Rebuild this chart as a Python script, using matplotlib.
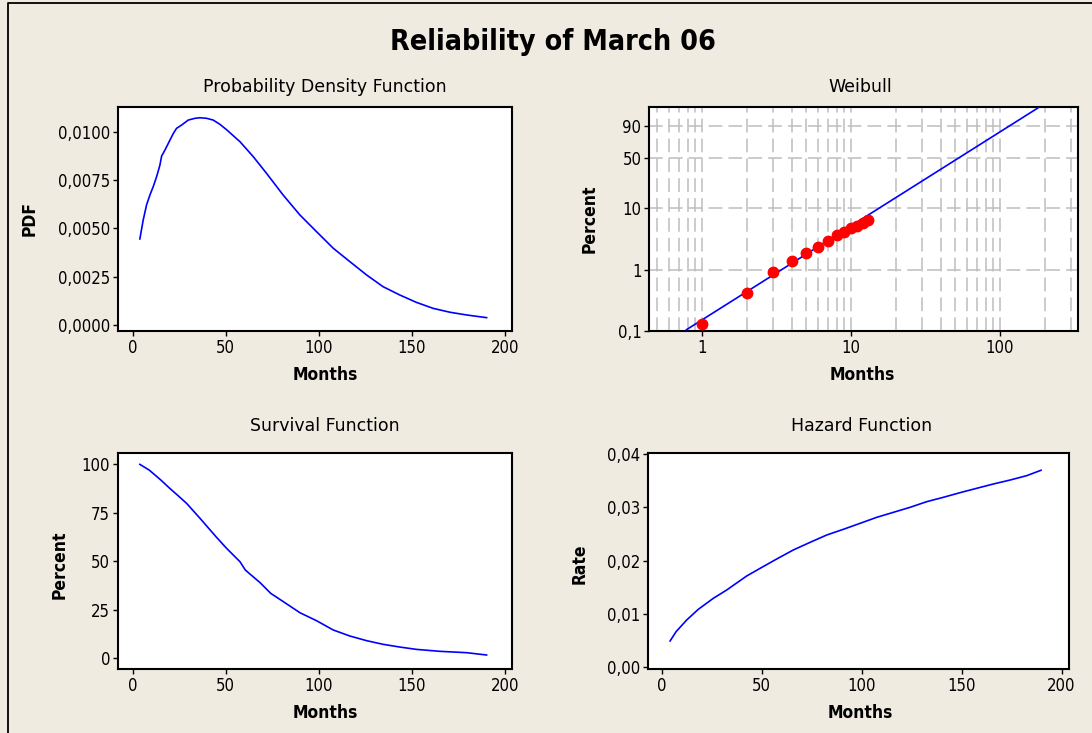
import numpy as np
import matplotlib
matplotlib.use("Agg")
import matplotlib.pyplot as plt
from matplotlib.ticker import FixedLocator, FixedFormatter, LogLocator, NullFormatter
from matplotlib.lines import Line2D

# ---------------- data ----------------
pdf_months = [3.9, 5.7, 7.5, 9.3, 11.1, 12.9, 14.7, 15.6, 17.4, 20.1, 21.9, 23.6, 26.3,
              29.9, 33.5, 36.2, 39.8, 43.3, 46.9, 50.5, 57.7, 64.8, 72.0, 80.9, 89.9,
              98.8, 107.8, 116.7, 125.7, 134.6, 143.6, 152.5, 161.5, 170.5, 179.4, 190.2]
pdf_values = [0.00445, 0.00543, 0.00621, 0.00672, 0.00716, 0.00767, 0.00828, 0.00874,
              0.00905, 0.00957, 0.00991, 0.01017, 0.01034, 0.01060, 0.01069, 0.01072,
              0.01069, 0.01060, 0.01038, 0.01010, 0.00948, 0.00871, 0.00784, 0.00672,
              0.00569, 0.00483, 0.00397, 0.00328, 0.00259, 0.00198, 0.00155, 0.00117,
              0.00086, 0.00066, 0.00052, 0.00038]

surv_months = [3.9, 9.0, 15.2, 20.0, 24.5, 29.0, 36.2, 44.8, 50.5, 57.7, 60.5, 63.0,
               68.5, 74.2, 81.0, 89.9, 98.8, 107.8, 116.7, 125.7, 134.6, 143.6, 152.5,
               165.0, 179.4, 190.2]
surv_percent = [100.0, 97.0, 91.9, 87.6, 83.8, 79.9, 72.2, 62.7, 56.7, 49.8, 45.6, 43.5,
                39.0, 33.5, 29.2, 23.5, 19.4, 14.6, 11.5, 9.1, 7.2, 5.8, 4.6, 3.6,
                2.9, 1.7]

haz_months = [4.2, 7.2, 12.5, 18.3, 25.8, 32.5, 42.5, 49.2, 57.5, 65.8, 74.2, 82.5,
              90.8, 99.2, 107.5, 115.8, 124.2, 132.5, 140.8, 149.2, 157.5, 165.8,
              174.2, 182.5, 189.7]
haz_rate = [0.00484, 0.00659, 0.00879, 0.01080, 0.01287, 0.01444, 0.01708, 0.01852,
            0.02028, 0.02198, 0.02342, 0.02480, 0.02587, 0.02700, 0.02813, 0.02907,
            0.03002, 0.03108, 0.03190, 0.03278, 0.03360, 0.03441, 0.03516, 0.03598,
            0.03700]

wb_months = [1, 2, 3, 4, 5, 6, 7, 8, 9, 10, 11, 12, 13]
wb_percent = [0.13, 0.42, 0.92, 1.40, 1.89, 2.35, 2.91, 3.66, 4.16, 4.76, 5.21, 5.83, 6.43]
fit_months = [0.785, 184.0]
fit_percent = [0.105, 99.15]

month_ticks = [0, 50, 100, 150, 200]
pdf_ticks = [0.0, 0.0025, 0.0050, 0.0075, 0.0100]
pdf_labels = ["0,0000", "0,0025", "0,0050", "0,0075", "0,0100"]
surv_ticks = [0, 25, 50, 75, 100]
haz_ticks = [0.00, 0.01, 0.02, 0.03, 0.04]
haz_labels = ["0,00", "0,01", "0,02", "0,03", "0,04"]
wb_xticks = [1, 10, 100]
wb_yticks = [0.1, 1, 10, 50, 90]
wb_ylabels = ["0,1", "1", "10", "50", "90"]

# ---------------- style ----------------
BG = "#EFEBE1"
BLUE = "#0000FF"
RED = "#FF0000"
GRID = "#BDBDBD"
plt.rcParams["font.family"] = ["DejaVu Sans"]
plt.rcParams["font.stretch"] = "condensed"

W, H = 1092, 733
fig = plt.figure(figsize=(W / 100, H / 100), dpi=100, facecolor=BG)


def px_rect(left, top, right, bottom):
    return [left / W, 1 - bottom / H, (right - left) / W, (bottom - top) / H]


def fx(x):
    return x / W


def fy(y):
    return 1 - y / H


TICK_FS = 12
LAB_FS = 12.5
TTL_FS = 12.5


def style_axes(ax):
    ax.set_facecolor("white")
    for s in ax.spines.values():
        s.set_linewidth(1.5)
        s.set_color("black")
    ax.tick_params(which="major", direction="out", length=3.5, width=1,
                   labelsize=TICK_FS, colors="black", pad=2)
    ax.tick_params(which="minor", length=0)


def month_axis(ax):
    ax.set_xlim(-8, 204)
    ax.xaxis.set_major_locator(FixedLocator(month_ticks))
    ax.xaxis.set_major_formatter(FixedFormatter([str(t) for t in month_ticks]))


# Probability density
ax1 = fig.add_axes(px_rect(117.7, 107.3, 512.3, 331))
ax1.plot(pdf_months, pdf_values, color=BLUE, lw=1.2)
month_axis(ax1)
ax1.set_ylim(-0.00031, 0.01126)
ax1.yaxis.set_major_locator(FixedLocator(pdf_ticks))
ax1.yaxis.set_major_formatter(FixedFormatter(pdf_labels))
style_axes(ax1)

# Weibull probability plot
def wb_fwd(p):
    p = np.clip(np.asarray(p, dtype=float), 1e-9, 100 - 1e-9)
    return np.log(-np.log(1 - p / 100.0))


def wb_inv(w):
    return 100.0 * (1 - np.exp(-np.exp(w)))


ax2 = fig.add_axes(px_rect(649, 107, 1078, 331))
ax2.set_xscale("log")
ax2.set_yscale("function", functions=(wb_fwd, wb_inv))
ax2.set_xlim(0.44, 334)
ax2.set_ylim(0.1, 99.15)
ax2.xaxis.set_major_locator(FixedLocator(wb_xticks))
ax2.xaxis.set_major_formatter(FixedFormatter([str(t) for t in wb_xticks]))
ax2.xaxis.set_minor_locator(LogLocator(base=10, subs=np.arange(2, 10), numticks=20))
ax2.xaxis.set_minor_formatter(NullFormatter())
ax2.yaxis.set_major_locator(FixedLocator(wb_yticks))
ax2.yaxis.set_major_formatter(FixedFormatter(wb_ylabels))
ax2.yaxis.set_minor_locator(FixedLocator([]))
ax2.grid(True, which="both", axis="x", color=GRID, ls=(0, (9, 4)), lw=1.1)
ax2.grid(True, which="major", axis="y", color=GRID, ls=(0, (9, 4)), lw=1.1)
ax2.set_axisbelow(True)
ax2.plot(fit_months, fit_percent, color=BLUE, lw=1.2, zorder=3)
ax2.plot(wb_months, wb_percent, "o", color=RED, ms=7.5, mec=RED, zorder=4)
style_axes(ax2)

# Survival
ax3 = fig.add_axes(px_rect(117.7, 453.3, 512.3, 669.3))
ax3.plot(surv_months, surv_percent, color=BLUE, lw=1.2)
month_axis(ax3)
ax3.set_ylim(-5.67, 105.7)
ax3.yaxis.set_major_locator(FixedLocator(surv_ticks))
ax3.yaxis.set_major_formatter(FixedFormatter([str(t) for t in surv_ticks]))
style_axes(ax3)

# Hazard
ax4 = fig.add_axes(px_rect(647.7, 453.3, 1069, 669.3))
ax4.plot(haz_months, haz_rate, color=BLUE, lw=1.2)
ax4.set_xlim(-7, 203.7)
ax4.xaxis.set_major_locator(FixedLocator(month_ticks))
ax4.xaxis.set_major_formatter(FixedFormatter([str(t) for t in month_ticks]))
ax4.set_ylim(-0.0005, 0.0402)
ax4.yaxis.set_major_locator(FixedLocator(haz_ticks))
ax4.yaxis.set_major_formatter(FixedFormatter(haz_labels))
style_axes(ax4)

# ---------------- texts ----------------
fig.text(fx(553), fy(42), "Reliability of March 06", ha="center", va="center",
         fontsize=20.5, fontweight="bold")

for x, y, s in [(325, 87, "Probability Density Function"), (860, 87, "Weibull"),
                (325, 426, "Survival Function"), (862, 426, "Hazard Function")]:
    fig.text(fx(x), fy(y), s, ha="center", va="center", fontsize=TTL_FS,
             fontstretch="normal")

for x, y in [(325, 375), (862, 375), (325, 713), (860, 713)]:
    fig.text(fx(x), fy(y), "Months", ha="center", va="center",
             fontsize=LAB_FS, fontweight="bold")

for x, y, s in [(30, 219, "PDF"), (590, 219, "Percent"),
                (60, 565, "Percent"), (580, 564, "Rate")]:
    fig.text(fx(x), fy(y), s, ha="center", va="center", rotation=90,
             fontsize=LAB_FS, fontweight="bold")

# outer frame
fig.add_artist(Line2D([fx(7.5), fx(7.5), 1.0], [0.0, fy(2.5), fy(2.5)],
                      color="black", lw=1.3, transform=fig.transFigure))

fig.savefig("out.png", dpi=100, facecolor=BG)
